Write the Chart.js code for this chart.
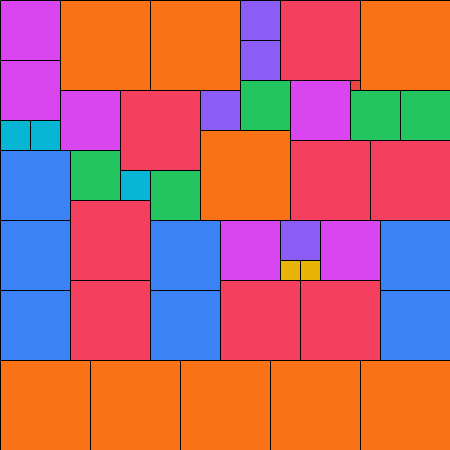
<!DOCTYPE html>
<html>
<head>
<meta charset="utf-8">
<script src="https://cdn.jsdelivr.net/npm/chart.js@4/dist/chart.umd.min.js"></script>
<style>
  html, body { margin: 0; padding: 0; background: #ffffff; }
  #wrap { width: 450px; height: 450px; }
</style>
</head>
<body>
<div id="wrap"><canvas id="myChart"></canvas></div>
<script>
// square packing: left, top, side (data units 0..450)
const sqLeft = [0, 0, 60, 150, 240, 240, 280, 360,
  0, 30, 60, 120, 200, 240, 290, 350, 350, 400,
  0, 70, 120, 150, 200, 290, 370,
  0, 70, 150, 220, 280, 280, 300, 320, 380,
  0, 70, 150, 220, 300, 380,
  0, 90, 180, 270, 360]
const sqTop = [0, 60, 0, 0, 0, 40, 0, 0,
  120, 120, 90, 90, 90, 80, 80, 80, 90, 90,
  150, 150, 170, 170, 130, 140, 140,
  220, 200, 220, 220, 220, 260, 260, 220, 220,
  290, 280, 290, 280, 280, 290,
  360, 360, 360, 360, 360]
const sqSide = [60, 60, 90, 90, 40, 40, 80, 90,
  30, 30, 60, 80, 40, 50, 60, 10, 50, 50,
  70, 50, 30, 50, 90, 80, 80,
  70, 80, 70, 60, 40, 20, 20, 60, 70,
  70, 80, 70, 80, 80, 70,
  90, 90, 90, 90, 90]

const colores = {
  90: "#f97316", 80: "#f43f5e", 70: "#3b82f6", 60: "#d946ef",
  50: "#22c55e", 40: "#8b5cf6", 30: "#06b6d4", 20: "#eab308", 10: "#ef4444"
}

// half-pixel nudge so the 1px borders land on whole pixels
const nudge = 0.5

let puntos = []
sqLeft.forEach(function(l, i){
  puntos.push({x: l + sqSide[i] / 2 + nudge, y: sqTop[i] + sqSide[i] / 2 + nudge, s: sqSide[i]})
})

function radio(context){
  const chart = context.chart
  const p = context.raw
  if(!chart.scales.x || !p) return 0
  const w = chart.scales.x.getPixelForValue(p.s) - chart.scales.x.getPixelForValue(0)
  return w / Math.SQRT2
}

var ctx = document.getElementById("myChart").getContext("2d")
var myChart = new Chart(ctx, {
  type: "scatter",
  data: {
    datasets: [{
      data: puntos,
      pointStyle: "rect",
      pointRadius: radio,
      pointHoverRadius: radio,
      pointBackgroundColor: (c) => c.raw ? colores[c.raw.s] : "#000",
      pointBorderColor: "#000000",
      pointBorderWidth: 1,
      pointHoverBorderWidth: 1,
      clip: false
    }]
  },
  options: {
    responsive: true,
    maintainAspectRatio: false,
    animation: false,
    layout: { padding: 0 },
    events: [],
    plugins: { legend: { display: false }, tooltip: { enabled: false } },
    scales: {
      x: { type: "linear", min: 0, max: 450, display: false },
      y: { type: "linear", min: 0, max: 450, reverse: true, display: false }
    }
  }
})
</script>
</body>
</html>
